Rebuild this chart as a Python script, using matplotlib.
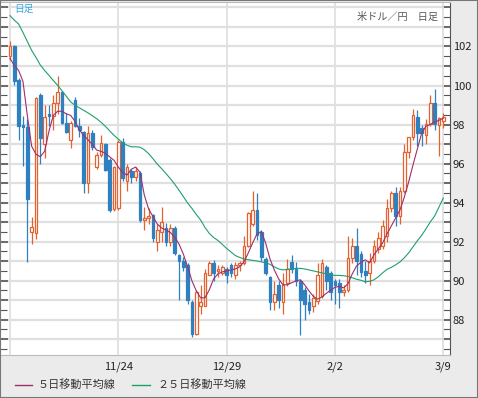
import matplotlib
matplotlib.use('Agg')
import matplotlib.pyplot as plt
from matplotlib.lines import Line2D
from matplotlib.ticker import MultipleLocator, FuncFormatter
import numpy as np
import pandas as pd

JP = ['Noto Sans CJK JP', 'DejaVu Sans']
plt.rcParams['font.family'] = JP

# daily candles, USD/JPY, 2008-10-20 .. 2009-03-09 (weekdays)
dates = pd.bdate_range('2008-10-20', '2009-03-09')
label_dates = ['2008-11-24', '2008-12-29', '2009-02-02', '2009-03-09']

opens = [101.5, 102.05, 100.3, 98.0, 97.85, 92.5, 92.45, 99.5, 97.0, 98.55,
         98.45, 99.1, 99.65, 98.1, 97.2, 99.25, 97.95, 97.6, 95.0, 97.55,
         95.8, 96.45, 97.0, 96.2, 93.65, 93.7, 97.1, 95.1, 95.6, 95.3,
         95.5, 93.1, 93.2, 93.35, 92.0, 92.5, 92.7, 92.0, 92.7, 91.3,
         91.0, 90.8, 88.9, 87.25, 88.7, 88.7, 90.3, 90.9, 90.5, 90.4,
         90.6, 90.8, 90.3, 90.8, 90.9, 91.8, 92.9, 93.6, 92.5, 91.1,
         90.2, 88.9, 89.8, 88.9, 89.9, 90.95, 90.6, 90.0, 89.5, 88.9,
         88.7, 88.95, 89.2, 90.7, 90.4, 90.0, 89.9, 89.4, 89.5, 91.15,
         91.8, 91.35, 90.5, 90.4, 91.0, 91.6, 91.8, 92.3, 93.7, 94.5,
         93.3, 94.6, 96.6, 97.35, 98.4, 97.8, 97.45, 98.05, 99.1, 98.0,
         98.2]
highs = [102.3, 102.1, 100.4, 98.45, 98.3, 93.25, 99.4, 99.6, 99.0, 99.0,
         99.5, 100.5, 99.7, 98.6, 98.2, 99.4, 98.35, 97.65, 97.95, 97.7,
         96.6, 97.45, 97.05, 96.3, 95.9, 97.2, 97.3, 96.0, 95.7, 95.8,
         95.6, 93.8, 93.7, 93.4, 92.9, 93.8, 92.95, 92.9, 92.8, 91.35,
         91.2, 90.9, 89.0, 89.5, 89.8, 90.6, 91.0, 91.05, 90.8, 90.8,
         90.7, 90.9, 90.95, 91.0, 92.3, 93.5, 94.6, 94.5, 92.6, 91.2,
         90.25, 90.0, 90.0, 90.4, 91.1, 91.3, 90.95, 90.1, 89.7, 89.3,
         89.3, 90.9, 91.1, 90.8, 90.5, 90.1, 90.1, 89.8, 92.3, 92.2,
         92.7, 91.5, 91.0, 91.4, 92.1, 92.5, 93.1, 94.2, 94.6, 94.8,
         94.8, 97.0, 97.35, 98.8, 98.75, 98.0, 98.3, 99.5, 99.8, 98.4,
         98.6]
lows = [101.3, 100.05, 97.2, 95.9, 90.95, 91.9, 92.15, 96.0, 96.3, 97.9,
        97.7, 98.55, 98.05, 97.55, 96.8, 97.85, 97.35, 94.5, 94.5, 96.7,
        95.7, 96.35, 95.6, 93.5, 93.55, 93.6, 95.1, 94.6, 95.0, 95.1,
        93.0, 92.6, 92.9, 92.0, 91.5, 92.0, 91.8, 91.8, 91.3, 89.0,
        90.5, 88.8, 87.1, 87.2, 88.3, 88.7, 90.3, 90.0, 90.2, 90.3,
        89.9, 90.2, 90.1, 90.5, 90.8, 91.7, 92.8, 92.1, 91.0, 90.3,
        88.5, 88.5, 88.6, 88.3, 89.75, 90.4, 89.75, 87.2, 88.0, 88.3,
        88.4, 88.8, 89.1, 89.5, 89.0, 88.8, 88.6, 89.2, 89.4, 90.9,
        90.3, 90.2, 89.9, 89.8, 90.9, 91.4, 91.6, 92.0, 93.5, 92.8,
        92.9, 94.5, 96.3, 97.2, 96.9, 96.9, 97.0, 97.9, 97.7, 96.4,
        97.8]
closes = [102.05, 100.25, 97.95, 97.85, 94.2, 92.75, 99.35, 97.3, 98.4, 98.45,
          99.1, 99.65, 98.1, 97.6, 98.1, 97.95, 97.7, 95.0, 97.55, 96.85,
          96.45, 97.05, 95.65, 93.6, 95.8, 97.1, 95.25, 95.8, 95.3, 95.6,
          93.1, 93.2, 93.3, 92.2, 92.6, 93.0, 92.0, 92.7, 91.4, 91.0,
          90.7, 89.0, 87.25, 89.4, 88.9, 90.4, 90.9, 90.4, 90.6, 90.7,
          90.3, 90.4, 90.8, 90.9, 91.8, 93.45, 93.6, 92.35, 91.2, 90.4,
          88.9, 89.3, 89.0, 89.8, 90.6, 90.6, 90.0, 89.0, 88.8, 88.5,
          89.1, 90.3, 90.9, 90.0, 89.4, 89.8, 89.4, 89.5, 91.15, 91.8,
          91.0, 90.45, 90.3, 91.0, 91.8, 92.2, 92.8, 93.7, 94.5, 93.3,
          94.6, 96.6, 97.35, 98.5, 97.55, 97.55, 98.05, 99.1, 98.05, 98.35,
          98.4]

# moving averages as drawn on the chart
ma5 = [101.39, 101.03, 100.77, 100.21, 98.47, 96.89, 96.48, 96.35, 96.63, 97.66,
       98.47, 98.68, 98.68, 98.55, 98.47, 98.17, 97.73, 97.45, 97.22, 96.99,
       96.69, 96.63, 96.53, 96.35, 96.17, 95.82, 95.54, 95.41, 95.71, 95.82,
       95.56, 94.39, 93.67, 93.29, 92.9, 92.7, 92.6, 92.47, 92.24, 91.88,
       91.37, 90.71, 89.99, 89.48, 89.12, 89.12, 89.53, 90.09, 90.35, 90.45,
       90.5, 90.55, 90.6, 90.71, 90.96, 91.42, 91.93, 92.39, 92.52, 91.93,
       91.12, 90.55, 90.09, 89.79, 89.79, 89.89, 89.99, 90.04, 89.79, 89.48,
       89.2, 89.05, 89.17, 89.35, 89.51, 89.66, 89.71, 89.63, 89.84, 90.35,
       90.76, 90.94, 91.07, 90.91, 91.32, 91.63, 91.93, 92.39, 92.8, 93.21,
       93.62, 94.28, 95.05, 95.92, 96.74, 97.55, 97.91, 98.01, 98.12, 98.22,
       98.32]
ma25 = [103.58, 103.35, 103.15, 102.72, 102.26, 101.8, 101.44, 101.05, 100.77, 100.52,
        100.26, 100.01, 99.73, 99.45, 99.16, 98.99, 98.86, 98.73, 98.6, 98.45,
        98.3, 98.12, 97.91, 97.68, 97.45, 97.25, 97.07, 96.94, 96.86, 96.86,
        96.84, 96.71, 96.51, 96.25, 95.97, 95.74, 95.49, 95.23, 94.95, 94.64,
        94.31, 93.98, 93.7, 93.39, 93.11, 92.73, 92.42, 92.21, 92.06, 91.86,
        91.65, 91.47, 91.29, 91.19, 91.12, 91.07, 91.04, 91.01, 90.96, 90.91,
        90.84, 90.71, 90.6, 90.55, 90.58, 90.6, 90.63, 90.63, 90.6, 90.55,
        90.5, 90.45, 90.4, 90.35, 90.3, 90.27, 90.27, 90.25, 90.22, 90.15,
        90.07, 90.02, 89.94, 89.97, 90.04, 90.2, 90.4, 90.58, 90.68, 90.81,
        90.96, 91.17, 91.42, 91.73, 92.04, 92.32, 92.65, 93.01, 93.31, 93.77,
        94.23]

UP = '#e4622e'
DOWN = '#2f80c0'
C_MA5 = '#9e2f6e'
C_MA25 = '#1ea06c'
GRID = '#e0e0e0'
BG = '#ebebeb'

fig = plt.figure(figsize=(4.78, 3.98), dpi=100, facecolor=BG)
ax = fig.add_axes([0.0, 0.108, 450 / 478, 0.887])
ax.set_facecolor('white')

x = np.arange(len(dates))
o = np.array(opens); h = np.array(highs); l = np.array(lows); c = np.array(closes)
up = c >= o

# wicks
ax.vlines(x[up], l[up], h[up], color=UP, lw=0.9, zorder=3)
ax.vlines(x[~up], l[~up], h[~up], color=DOWN, lw=0.9, zorder=3)
# bodies
body = np.maximum(np.abs(c - o), 0.05)
ax.bar(x[up], body[up], bottom=np.minimum(o, c)[up], width=0.62,
       facecolor='white', edgecolor=UP, lw=0.9, zorder=4)
ax.bar(x[~up], body[~up], bottom=np.minimum(o, c)[~up], width=0.62,
       facecolor=DOWN, edgecolor=DOWN, lw=0.9, zorder=4)

ax.plot(x, ma25, color=C_MA25, lw=0.8, zorder=5)
ax.plot(x, ma5, color=C_MA5, lw=0.8, zorder=6)

ax.set_xlim(-2.3, 101.55)
ax.set_ylim(86.19, 104.28)

# vertical grid every 25 sessions, labels on dated ones
date_str = [d.strftime('%Y-%m-%d') for d in dates]
tick_pos = [date_str.index(d) for d in label_dates]
for p in [0] + tick_pos:
    ax.axvline(p, color=GRID, lw=1.3, zorder=1)
ax.set_xticks(tick_pos)
ax.set_xticklabels([f'{dates[p].month}/{dates[p].day}' for p in tick_pos])
ax.tick_params(axis='x', length=0, pad=5, labelsize=8, labelcolor='#222')

ax.yaxis.set_major_locator(MultipleLocator(1))
ax.yaxis.set_minor_locator(MultipleLocator(0.5))
ax.yaxis.set_major_formatter(FuncFormatter(
    lambda v, _: f'{v:.0f}' if round(v) % 2 == 0 and 88 <= v <= 102 else ''))
ax.yaxis.set_ticks_position('both')
ax.yaxis.set_label_position('right')
ax.tick_params(axis='y', which='both', direction='in', left=True, right=True,
               labelleft=False, labelright=True, color='#555', labelsize=8,
               labelcolor='#222', pad=2)
ax.tick_params(axis='y', which='major', length=6, width=1.2)
ax.tick_params(axis='y', which='minor', length=5, width=0.8)
ax.grid(axis='y', which='major', color=GRID, lw=1.6, zorder=0)
ax.set_axisbelow(True)

for s in ['top', 'bottom', 'left']:
    ax.spines[s].set_color('#bbbbbb')
ax.spines['right'].set_color('#555555')

# captions
fig.text(14 / 478, 1 - 9 / 398, '日足', color='#33a8e0', fontsize=7, va='center', ha='left')
fig.text(438 / 478, 1 - 17 / 398, '米ドル／円　日足', color='#555555', fontsize=7.3,
         va='center', ha='right')

# legend
ly = 1 - 385 / 398
fig.add_artist(Line2D([15 / 478, 32 / 478], [ly, ly], color=C_MA5, lw=1))
fig.text(38 / 478, ly, '５日移動平均線', fontsize=8, color='#333333', va='center')
fig.add_artist(Line2D([132 / 478, 150 / 478], [ly, ly], color=C_MA25, lw=1))
fig.text(157 / 478, ly, '２５日移動平均線', fontsize=8, color='#333333', va='center')

# outer frame
fig.add_artist(plt.Rectangle((0, 0), 1, 1, transform=fig.transFigure, fill=False,
                             edgecolor='#777777', lw=1.5))

fig.savefig('out.png', dpi=100, facecolor=BG)
